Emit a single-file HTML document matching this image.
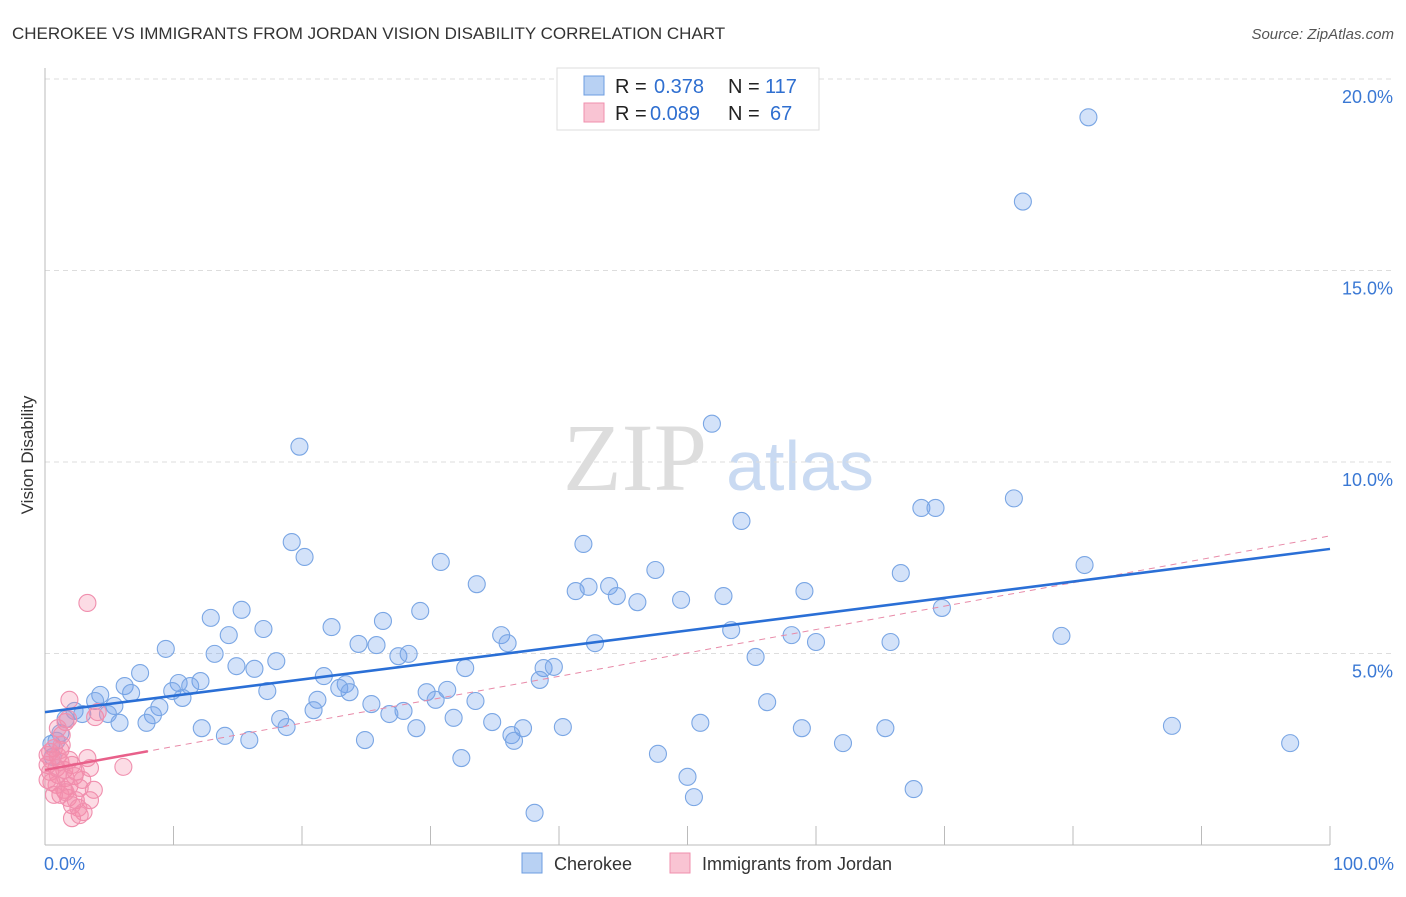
<!DOCTYPE html>
<html><head><meta charset="utf-8"><style>
body{margin:0;background:#fff;font-family:"Liberation Sans",sans-serif;}
</style></head><body>
<svg id="chart" width="1406" height="892" xmlns="http://www.w3.org/2000/svg">
<text x="12" y="39" font-size="17" fill="#333">CHEROKEE VS IMMIGRANTS FROM JORDAN VISION DISABILITY CORRELATION CHART</text>
<text x="1394" y="39" font-size="15" fill="#555" font-style="italic" text-anchor="end">Source: ZipAtlas.com</text>
<text x="33" y="455" font-size="17" fill="#333" text-anchor="middle" transform="rotate(-90 33 455)">Vision Disability</text>
<g><text x="635" y="490" font-size="96" fill="#ddd" font-family="Liberation Serif" text-anchor="middle">ZIP</text><text x="800" y="490" font-size="70" fill="#c9daf2" text-anchor="middle">atlas</text></g>
<g id="grid"></g><g id="axes"></g><g id="pts"></g><g id="trends"></g>
<g>
<rect x="557" y="68" width="262" height="62" fill="#fff" stroke="#ddd"/>
<rect x="584" y="76" width="20" height="19" fill="#b8d1f3" stroke="#6c9de0"/>
<rect x="584" y="103" width="20" height="19" fill="#f9c4d3" stroke="#f08fae"/>
<g font-size="20" fill="#222">
<text x="615" y="93">R =</text><text x="654" y="93" fill="#2f6fd0">0.378</text><text x="728" y="93">N =</text><text x="765" y="93" fill="#2f6fd0">117</text>
<text x="615" y="120">R =</text><text x="650" y="120" fill="#2f6fd0">0.089</text><text x="728" y="120">N =</text><text x="770" y="120" fill="#2f6fd0">67</text>
</g>
</g>
<g>
<rect x="522" y="853" width="20" height="20" fill="#b8d1f3" stroke="#6c9de0"/>
<text x="554" y="870" font-size="18" fill="#333">Cherokee</text>
<rect x="670" y="853" width="20" height="20" fill="#f9c4d3" stroke="#f08fae"/>
<text x="702" y="870" font-size="18" fill="#333">Immigrants from Jordan</text>
</g>
</svg>
<script>
const yTicks=[5,10,15,20];
const yTickLabels=["5.0%","10.0%","15.0%","20.0%"];
const xTickLabels=["0.0%","100.0%"];
const blueX=[81.2,76.1,51.9,19.8,75.4,68.2,69.3,54.2,19.2,41.9,20.2,30.8,80.9,47.5,66.6,33.6,41.3,42.3,43.9,59.1,44.5,46.1,49.5,52.8,69.8,15.3,29.2,12.9,26.3,22.3,17.0,14.3,35.5,79.1,53.4,58.1,60.0,65.8,36.0,42.8,24.4,25.8,9.4,13.2,27.5,28.3,18.0,55.3,14.9,16.3,32.7,38.8,39.6,7.4,21.7,38.5,12.1,10.4,11.3,23.4,22.9,6.2,23.7,17.3,6.7,31.3,29.7,9.9,4.3,10.7,30.4,33.5,21.2,3.9,56.2,25.4,5.4,8.9,20.9,2.3,27.9,8.4,4.9,26.8,2.9,18.3,31.8,1.6,7.9,5.8,34.8,51.0,87.7,18.8,12.2,28.9,37.2,40.3,58.9,65.4,14.0,1.2,36.3,15.9,24.9,36.5,62.1,96.9,0.5,0.9,47.7,32.4,50.0,50.5,67.6,38.1,0.6];
const blueY=[19.0,16.8,11.0,10.4,9.05,8.8,8.8,8.46,7.91,7.86,7.52,7.39,7.31,7.18,7.1,6.81,6.63,6.74,6.76,6.63,6.5,6.34,6.4,6.5,6.19,6.14,6.11,5.93,5.85,5.69,5.64,5.48,5.48,5.46,5.61,5.48,5.3,5.3,5.27,5.27,5.25,5.22,5.12,4.99,4.93,4.99,4.8,4.91,4.67,4.6,4.62,4.62,4.65,4.49,4.41,4.31,4.28,4.23,4.15,4.2,4.1,4.15,3.99,4.02,3.97,4.05,3.99,4.02,3.92,3.84,3.79,3.76,3.79,3.76,3.73,3.68,3.63,3.6,3.52,3.5,3.5,3.39,3.42,3.42,3.42,3.29,3.32,3.29,3.19,3.19,3.21,3.19,3.11,3.08,3.05,3.05,3.05,3.08,3.05,3.05,2.85,2.92,2.87,2.74,2.74,2.72,2.66,2.66,2.64,2.72,2.38,2.27,1.78,1.25,1.46,0.84,2.3];
const pinkX=[3.3,1.9,1.8,3.9,1.6,0.7,1.3,0.4,1.0,0.5,1.2,0.9,1.5,2.1,0.4,1.0,1.6,0.5,3.3,3.5,6.1,2.3,2.9,0.9,1.5,1.9,2.7,3.8,1.2,1.8,2.4,3.5,2.1,2.6,3.0,2.1,2.7,1.6,0.7,0.2,0.2,0.2,1.2,1.9,2.4,1.3,1.0,4.1];
const pinkY=[6.32,3.79,3.29,3.34,3.21,2.53,2.61,2.43,2.32,2.22,2.17,2.01,1.96,2.09,1.91,1.83,1.75,1.64,2.27,2.01,2.04,1.8,1.7,1.57,1.44,1.54,1.49,1.44,1.31,1.23,1.17,1.17,1.04,0.97,0.86,0.7,0.78,1.38,1.31,1.7,2.09,2.35,2.48,2.22,1.91,2.87,3.05,3.47];
const blueTrend=[3.47,7.73];
const pinkTrend=[1.96,8.07];
const pinkSolidEnd=8;
const NS="http://www.w3.org/2000/svg";
const X=v=>45+v*12.85, Y=v=>845-v*38.3;
function mk(tag,attrs,parent){const e=document.createElementNS(NS,tag);for(const k in attrs)e.setAttribute(k,attrs[k]);parent.appendChild(e);return e;}
const grid=document.getElementById('grid'),axes=document.getElementById('axes'),pts=document.getElementById('pts'),tr=document.getElementById('trends');
yTicks.forEach((t,i)=>{
 const l=mk('line',{x1:45,x2:1394,y1:Y(t),y2:Y(t),stroke:'#ddd','stroke-dasharray':'5,4'},grid);
 
 
 const tx=mk('text',{x:1393,y:Y(t)+24,'font-size':18,fill:'#3a78d4','text-anchor':'end'},grid);
 tx.textContent=yTickLabels[i];
 
 
});
const ax=mk('line',{x1:45,x2:1330,y1:845,y2:845,stroke:'#bbb'},axes);


const ay=mk('line',{x1:45,x2:45,y1:68,y2:845,stroke:'#bbb'},axes);


for(let i=0;i<=10;i++){const t=mk('line',{x1:X(i*10),x2:X(i*10),y1:826,y2:845,stroke:'#bbb'},axes);
 
 }
[[0,'start',44],[100,'end',1394]].forEach((d,i)=>{const t=mk('text',{x:d[2],y:870,'font-size':18,fill:'#3a78d4','text-anchor':d[1]},axes);t.textContent=xTickLabels[i];
 
 });
blueX.forEach((x,i)=>{const c=mk('circle',{cx:X(x),cy:Y(blueY[i]),r:8.5,fill:'rgba(110,160,235,0.3)',stroke:'#7aa6e4','stroke-width':1.1},pts);
 
 });
pinkX.forEach((x,i)=>{const c=mk('circle',{cx:X(x),cy:Y(pinkY[i]),r:8.5,fill:'rgba(245,140,170,0.3)',stroke:'#f08fae','stroke-width':1.1},pts);
 
 });
const pl=p=>pinkTrend[0]+(pinkTrend[1]-pinkTrend[0])*p/100;
const pd=mk('line',{x1:X(0),y1:Y(pinkTrend[0]),x2:X(100),y2:Y(pinkTrend[1]),stroke:'#e88aa8','stroke-width':1,'stroke-dasharray':'6,5'},tr);


const ps=mk('line',{x1:X(0),y1:Y(pinkTrend[0]),x2:X(pinkSolidEnd),y2:Y(pl(pinkSolidEnd)),stroke:'#e8608a','stroke-width':2.5},tr);


const bt=mk('line',{x1:X(0),y1:Y(blueTrend[0]),x2:X(100),y2:Y(blueTrend[1]),stroke:'#2a6fd6','stroke-width':2.5},tr);


</script>
</body></html>
